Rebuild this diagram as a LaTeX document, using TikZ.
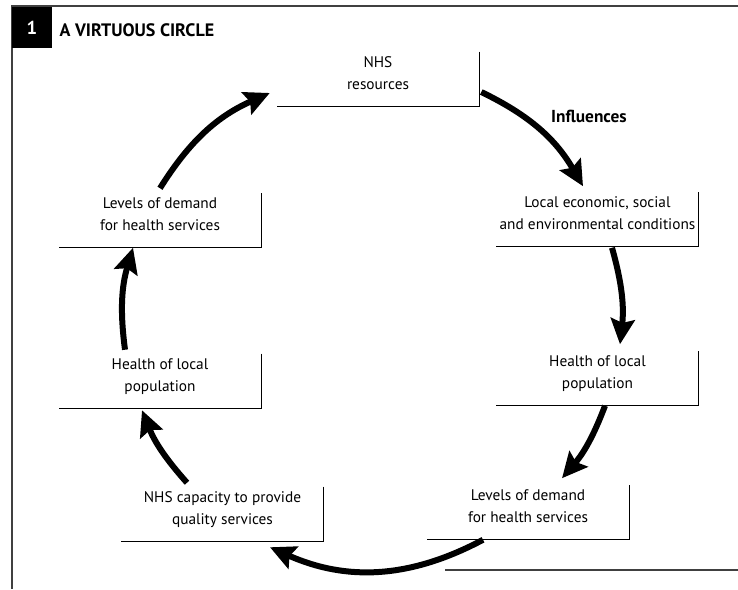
\documentclass[tikz,border=0pt]{standalone}
\usepackage{fontspec}
\setmainfont{PT Sans}
\usetikzlibrary{arrows.meta}

\begin{document}
\begin{tikzpicture}[x=0.75pt, y=-0.75pt,
    stage/.style={minimum width=151.5pt, minimum height=40.5pt, align=center,
        inner sep=0pt, text height=24.5pt, text depth=9.5pt,
        font=\fontsize{11.5}{16.5}\selectfont},
    flow/.style={line width=4.5pt, -{Stealth[length=19pt, width=18pt, inset=3pt]}},
    rim/.style={line width=1pt}]
\useasboundingbox (0,0) rectangle (738,589);

% frame and title
\draw[black!75, line width=0.8pt] (738,6) -- (12,6) -- (12,589);
\draw[black!75, line width=0.8pt] (445,570) -- (738,570);
\node[fill=black, minimum width=30pt, minimum height=31pt, inner sep=0pt,
    text=white, font=\bfseries\fontsize{14}{16}\selectfont] (num) at (32,27.5) {1};
\node[anchor=west, font=\bfseries\fontsize{13.5}{16}\selectfont] (title) at (55,30) {A VIRTUOUS CIRCLE};

% the seven stages
\node[stage] (res) at (378,79) {NHS\\resources};
\node[stage] (cond) at (597.5,219.5) {Local economic, social\\and environmental conditions};
\node[stage] (hlthR) at (597.5,378.5) {Health of local\\population};
\node[stage] (demR) at (528,512.5) {Levels of demand\\for health services};
\node[stage] (cap) at (222.5,514) {NHS capacity to provide\\quality services};
\node[stage] (hlthL) at (160,381) {Health of local\\population};
\node[stage] (demL) at (160,220.5) {Levels of demand\\for health services};

\foreach \n in {res,cond,hlthR,demR,cap,hlthL,demL}
    \draw[rim] (\n.north east) -- (\n.south east) -- (\n.south west);

% arrows round the circle
\draw[flow] ([shift={(2,13)}]res.east) to[bend left=17] ([shift={(-14.5,-6)}]cond.north);
\draw[flow] ([shift={(14.5,1)}]cond.south) to[bend left=11] ([shift={(22.5,-7)}]hlthR.north);
\draw[flow] ([shift={(7.5,0)}]hlthR.south) to[bend left=10] ([shift={(34,-7)}]demR.north);
\draw[flow] ([shift={(-45,0)}]demR.south) to[bend left=26] ([shift={(47.5,6)}]cap.south);
\draw[flow] ([shift={(-35.5,-4)}]cap.north) to[bend left=10] ([shift={(-18,2)}]hlthL.south);
\draw[flow] ([shift={(-35,-4)}]hlthL.north) to[bend left=12] ([shift={(-27,0)}]demL.south);
\draw[flow] ([shift={(0,-5)}]demL.north) to[bend left=17] ([shift={(-7,14)}]res.west);

\node[font=\bfseries\fontsize{13}{16}\selectfont] (infl) at (589,116) {Influences};
\end{tikzpicture}
\end{document}
